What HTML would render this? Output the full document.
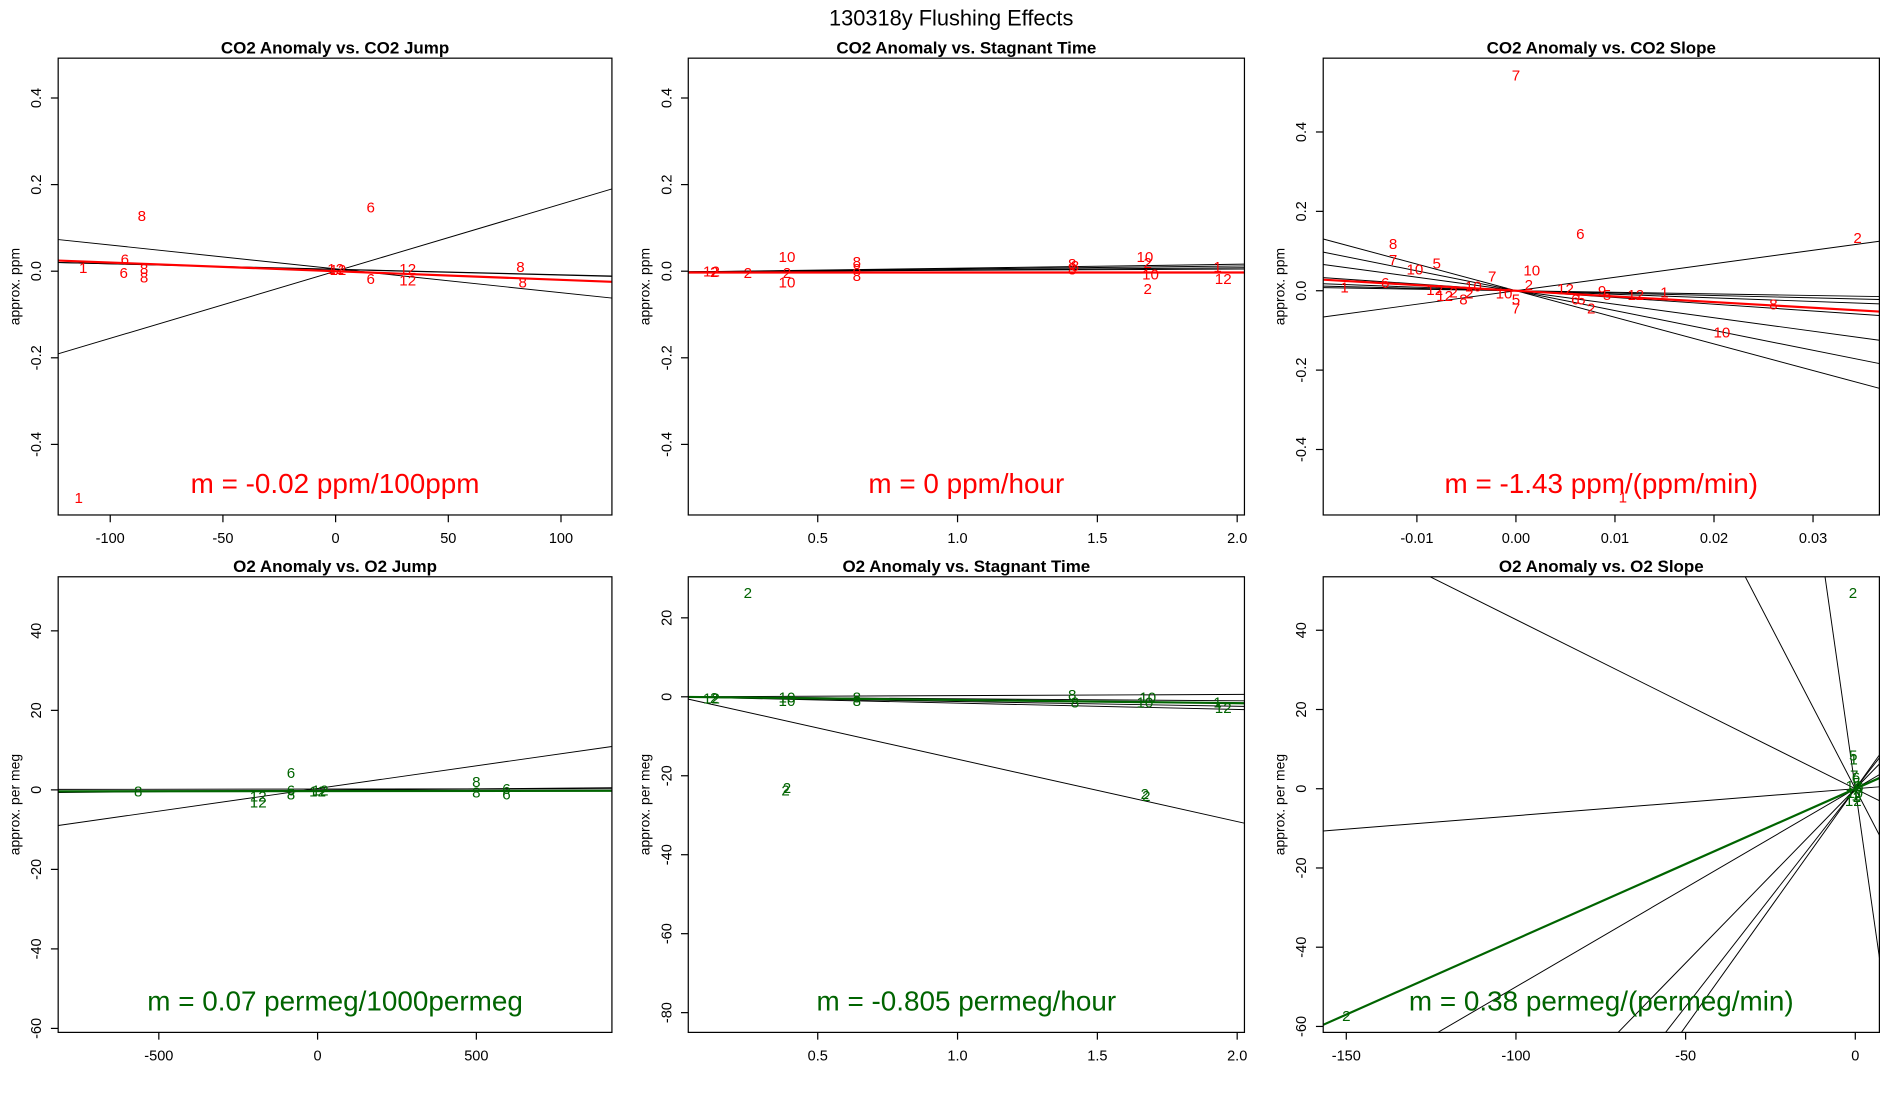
<!DOCTYPE html>
<html><head><meta charset="utf-8"><style>
html,body{margin:0;padding:0;background:#fff;overflow:hidden;width:1900px;height:1100px;}
svg{display:block;font-family:"Liberation Sans",sans-serif;}
</style></head><body>
<svg id="fig" width="1900" height="1100" viewBox="0 0 1568 907.8" xmlns="http://www.w3.org/2000/svg">
<text x="785" y="21" font-size="18" text-anchor="middle">130318y   Flushing Effects</text>
</svg>
<script>
// ---- Panel 1: CO2 Anomaly vs CO2 Jump
const p1X = [-112,-114,-86,-93.5,-94,-85,-85,15.6,0,1,15.6,32,32,82,83];
const p1Y = [0.008,-0.523,0.129,0.028,-0.003,0.006,-0.014,0.148,0.006,0.004,-0.017,0.006,-0.02,0.011,-0.025];
const p1L = ["1","1","8","6","6","8","8","6","12","12","6","12","12","8","8"];
const p1Int = [0.0054,0.0,0.0045,0.004];
const p1Slope = [-0.00055,0.00155,-0.000126,-0.00013];
const p1FitInt = [-0.0];
const p1FitSlope = [-0.0002];
// ---- Panel 2: CO2 Anomaly vs Stagnant Time
const p2X = [0.12,0.13,0.25,0.39,0.39,0.39,0.64,0.64,0.64,1.41,1.41,1.42,1.67,1.68,1.69,1.68,1.93,1.95];
const p2Y = [0.0,-0.001,-0.003,0.034,-0.003,-0.025,0.022,0.006,-0.01,0.018,0.005,0.013,0.034,0.02,-0.006,-0.04,0.011,-0.017];
const p2L = ["12","2","2","10","2","10","8","8","8","8","8","8","10","2","10","2","1","12"];
const p2Int = [-0.002,-0.002,-0.002,-0.001];
const p2Slope = [0.009,0.007,0.005,0.003];
const p2FitInt = [-0.003];
const p2FitSlope = [0.0];
// ---- Panel 3: CO2 Anomaly vs CO2 Slope
const p3X = [0,0.0065,0.0345,-0.0124,-0.0124,-0.008,-0.0102,-0.0132,-0.0173,0.0016,-0.0024,0.0013,0.005,0.0087,0.0121,0.015,0.026,0.0208,0.0108,-0.0082,-0.0072,-0.0063,-0.0053,-0.0047,-0.0043,-0.0012,0,0,0.006,0.0066,0.0076,0.0092];
const p3Y = [0.544,0.144,0.134,0.119,0.079,0.07,0.055,0.021,0.009,0.052,0.037,0.015,0.006,0,-0.009,-0.003,-0.034,-0.104,-0.52,0.003,-0.012,-0.003,-0.021,-0.006,0.012,-0.006,-0.021,-0.043,-0.021,-0.021,-0.043,-0.009];
const p3L = ["7","6","2","8","7","5","10","6","1","10","7","2","12","9","12","1","8","10","1","12","12","2","8","2","10","10","5","7","6","5","2","5"];
const p3Int = [0,0,0,0,0,0,0,0];
const p3Slope = [3.4,-6.7,-5.0,-3.4,-1.7,-0.9,-0.6,-0.4];
const p3FitInt = [0];
const p3FitSlope = [-1.43];
// ---- Panel 4: O2 Anomaly vs O2 Jump
const p4X = [-565,-187,-187,-84,-84,-84,0,8,500,500,595,595];
const p4Y = [-0.3,-1.5,-3,4.3,0,-1,-0.3,0,2.1,-0.6,0.3,-1];
const p4L = ["8","12","12","6","6","8","12","12","8","8","6","6"];
const p4Int = [0.35,0.2,-0.1];
const p4Slope = [0.0114,0.0001,0.0007];
const p4FitInt = [-0.3];
const p4FitSlope = [0.00007];
// ---- Panel 5: O2 Anomaly vs Stagnant Time
const p5X = [0.25,0.39,0.385,1.67,1.675,0.12,0.13,0.39,0.39,0.64,0.64,1.41,1.42,1.68,1.67,1.93,1.95];
const p5Y = [26.4,-23,-23.6,-24.5,-25,-0.3,-0.2,0,-0.9,0,-0.9,0.6,-1.3,0,-1.3,-1.3,-2.7];
const p5L = ["2","2","2","2","2","12","2","10","10","8","8","8","8","10","10","1","12"];
const p5Int = [0,0,0,0,0];
const p5Slope = [-15.8,0.3,-0.5,-1.2,-1.6];
const p5FitInt = [0];
const p5FitSlope = [-0.805];
// ---- Panel 6: O2 Anomaly vs O2 Slope
const p6X = [-0.7,-150,-0.6,-0.5,-0.3,0.2,-0.4,0.4,0.8,-0.2,0.5,1.2,-0.6,0.1];
const p6Y = [49.5,-57.2,8.5,7.5,3.5,3,0.8,1.5,0.2,-1,-2,0.5,-3,-1.6];
const p6L = ["2","2","5","1","7","6","12","5","8","10","2","6","12","1"];
const p6Int = [0,0,0,0,0,0,0,0];
const p6Slope = [0.068,-0.427,-1.65,-6.0,0.50,0.88,1.10,1.2];
const p6FitInt = [0];
const p6FitSlope = [0.38];

const panels = [
 {id:'co2-jump',title:'CO2 Anomaly vs. CO2 Jump',x0:48,x1:505,y0:48,y1:425,xmin:-123.1,xmax:122.6,ymin:-0.563,ymax:0.492,xt:[-100,-50,0,50,100],xtl:['-100','-50','0','50','100'],yt:[-0.4,-0.2,0,0.2,0.4],ytl:['-0.4','-0.2','0.0','0.2','0.4'],yl:'approx. ppm',col:'#ff0000',ann:'m = -0.02 ppm/100ppm',X:p1X,Y:p1Y,L:p1L,I:p1Int,S:p1Slope,FI:p1FitInt,FS:p1FitSlope},
 {id:'co2-stagnant',title:'CO2 Anomaly vs. Stagnant Time',x0:568,x1:1027,y0:48,y1:425,xmin:0.037,xmax:2.026,ymin:-0.563,ymax:0.492,xt:[0.5,1.0,1.5,2.0],xtl:['0.5','1.0','1.5','2.0'],yt:[-0.4,-0.2,0,0.2,0.4],ytl:['-0.4','-0.2','0.0','0.2','0.4'],yl:'approx. ppm',col:'#ff0000',ann:'m = 0 ppm/hour',X:p2X,Y:p2Y,L:p2L,I:p2Int,S:p2Slope,FI:p2FitInt,FS:p2FitSlope},
 {id:'co2-slope',title:'CO2 Anomaly vs. CO2 Slope',x0:1092,x1:1551,y0:48,y1:425,xmin:-0.01946,xmax:0.0367,ymin:-0.565,ymax:0.586,xt:[-0.01,0,0.01,0.02,0.03],xtl:['-0.01','0.00','0.01','0.02','0.03'],yt:[-0.4,-0.2,0,0.2,0.4],ytl:['-0.4','-0.2','0.0','0.2','0.4'],yl:'approx. ppm',col:'#ff0000',ann:'m = -1.43 ppm/(ppm/min)',X:p3X,Y:p3Y,L:p3L,I:p3Int,S:p3Slope,FI:p3FitInt,FS:p3FitSlope},
 {id:'o2-jump',title:'O2 Anomaly vs. O2 Jump',x0:48,x1:505,y0:476,y1:852,xmin:-817,xmax:927,ymin:-61.0,ymax:53.6,xt:[-500,0,500],xtl:['-500','0','500'],yt:[-60,-40,-20,0,20,40],ytl:['-60','-40','-20','0','20','40'],yl:'approx. per meg',col:'#006400',ann:'m = 0.07 permeg/1000permeg',X:p4X,Y:p4Y,L:p4L,I:p4Int,S:p4Slope,FI:p4FitInt,FS:p4FitSlope},
 {id:'o2-stagnant',title:'O2 Anomaly vs. Stagnant Time',x0:568,x1:1027,y0:476,y1:852,xmin:0.037,xmax:2.026,ymin:-85,ymax:30.4,xt:[0.5,1.0,1.5,2.0],xtl:['0.5','1.0','1.5','2.0'],yt:[-80,-60,-40,-20,0,20],ytl:['-80','-60','-40','-20','0','20'],yl:'approx. per meg',col:'#006400',ann:'m = -0.805 permeg/hour',X:p5X,Y:p5Y,L:p5L,I:p5Int,S:p5Slope,FI:p5FitInt,FS:p5FitSlope},
 {id:'o2-slope',title:'O2 Anomaly vs. O2 Slope',x0:1092,x1:1551,y0:476,y1:852,xmin:-156.8,xmax:7.1,ymin:-61.5,ymax:53.5,xt:[-150,-100,-50,0],xtl:['-150','-100','-50','0'],yt:[-60,-40,-20,0,20,40],ytl:['-60','-40','-20','0','20','40'],yl:'approx. per meg',col:'#006400',ann:'m = 0.38 permeg/(permeg/min)',X:p6X,Y:p6Y,L:p6L,I:p6Int,S:p6Slope,FI:p6FitInt,FS:p6FitSlope}
];
const NS='http://www.w3.org/2000/svg';
const svg=document.getElementById('fig');
function mk(tag,attrs,parent,text){const e=document.createElementNS(NS,tag);for(const k in attrs)e.setAttribute(k,attrs[k]);if(text!==undefined)e.textContent=text;parent.appendChild(e);return e;}
panels.forEach((p,pi)=>{
 const sx=v=>p.x0+(v-p.xmin)/(p.xmax-p.xmin)*(p.x1-p.x0);
 const sy=v=>p.y1-(v-p.ymin)/(p.ymax-p.ymin)*(p.y1-p.y0);
 const g=mk('g',{},svg);
 
 
 const defs=mk('defs',{},g);
 const cp=mk('clipPath',{id:'clip'+pi},defs);
 mk('rect',{x:p.x0,y:p.y0,width:p.x1-p.x0,height:p.y1-p.y0},cp);
 const t=mk('text',{x:(p.x0+p.x1)/2,y:p.y0-4,'font-size':14,'font-weight':'bold','text-anchor':'middle'},g,p.title);
 
 
 const plot=mk('g',{'clip-path':'url(#clip'+pi+')'},g);
 p.S.forEach((s,i)=>{
  const l=mk('line',{x1:sx(p.xmin),y1:sy(p.I[i]+s*p.xmin),x2:sx(p.xmax),y2:sy(p.I[i]+s*p.xmax),stroke:'#000','stroke-width':0.8},plot);
  
  
 });
 p.FS.forEach((s,i)=>{
  const l=mk('line',{x1:sx(p.xmin),y1:sy(p.FI[i]+s*p.xmin),x2:sx(p.xmax),y2:sy(p.FI[i]+s*p.xmax),stroke:p.col,'stroke-width':1.8},plot);
  
  
 });
 p.X.forEach((x,i)=>{
  const e=mk('text',{x:sx(x),y:sy(p.Y[i])+4.5,'font-size':12.5,fill:p.col,'text-anchor':'middle'},plot,p.L[i]);
  
  
 });
 const a=mk('text',{x:(p.x0+p.x1)/2,y:p.y1-18,'font-size':23,fill:p.col,'text-anchor':'middle'},g,p.ann);
 
 
 const box=mk('rect',{x:p.x0,y:p.y0,width:p.x1-p.x0,height:p.y1-p.y0,fill:'none',stroke:'#000','stroke-width':1},g);
 
 
 const xa=mk('g',{},g);
 
 
 p.xt.forEach((v,i)=>{
  mk('line',{x1:sx(v),y1:p.y1,x2:sx(v),y2:p.y1+6,stroke:'#000'},xa);
  mk('text',{x:sx(v),y:p.y1+23,'font-size':12,'text-anchor':'middle'},xa,p.xtl[i]);
 });
 const ya=mk('g',{},g);
 
 
 p.yt.forEach((v,i)=>{
  mk('line',{x1:p.x0,y1:sy(v),x2:p.x0-6,y2:sy(v),stroke:'#000'},ya);
  mk('text',{x:0,y:0,'font-size':12,'text-anchor':'middle',transform:'translate('+(p.x0-14)+','+sy(v)+') rotate(-90)'},ya,p.ytl[i]);
 });
 const yl=mk('text',{x:0,y:0,'font-size':11.5,'text-anchor':'middle',transform:'translate('+(p.x0-32)+','+((p.y0+p.y1)/2)+') rotate(-90)'},g,p.yl);
 
 
});
</script>
</body></html>
